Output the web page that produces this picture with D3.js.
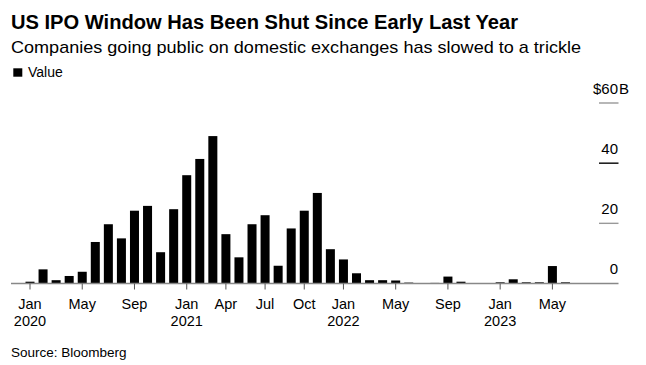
<!DOCTYPE html>
<html><head><meta charset="utf-8">
<script src="https://cdn.jsdelivr.net/npm/d3@7"></script>
<style>
body{margin:0;background:#fff;}
svg{display:block;font-family:"Liberation Sans",Arial,sans-serif;}
</style></head>
<body><svg id="c" width="646" height="365"></svg>
<script>
const months = ["2020-01","2020-02","2020-03","2020-04","2020-05","2020-06","2020-07","2020-08","2020-09","2020-10","2020-11","2020-12",
"2021-01","2021-02","2021-03","2021-04","2021-05","2021-06","2021-07","2021-08","2021-09","2021-10","2021-11","2021-12",
"2022-01","2022-02","2022-03","2022-04","2022-05","2022-06","2022-07","2022-08","2022-09","2022-10","2022-11","2022-12",
"2023-01","2023-02","2023-03","2023-04","2023-05","2023-06"];
const values = [0.6,4.7,1.1,2.5,3.9,13.8,19.7,15.0,24.2,25.8,10.4,24.7,
36.0,41.4,49.0,16.4,8.7,19.7,22.7,5.9,18.3,24.2,30.1,11.4,
8.0,3.4,1.1,1.1,1.0,0.3,0.1,0.2,2.3,0.6,0.1,0.1,
0.4,1.4,0.4,0.4,5.8,0.4];
const tickMonths = ["2020-01","2020-05","2020-09","2021-01","2021-04","2021-07","2021-10","2022-01","2022-05","2022-09","2023-01","2023-05"];
const tickLabels = [["Jan","2020"],["May"],["Sep"],["Jan","2021"],["Apr"],["Jul"],["Oct"],["Jan","2022"],["May"],["Sep"],["Jan","2023"],["May"]];
const yTicks = [0,20,40,60];

const svg = d3.select("#c");
const step = 13.06;
const x = d3.scaleBand().domain(months).range([30 - step/2, 30 - step/2 + step*months.length]).paddingInner(0.31).paddingOuter(0.155);
const y = d3.scaleLinear().domain([0,60]).range([283.5,103]);

// titles
svg.append("text").attr("x",11).attr("y",28.5).attr("font-size",20).attr("font-weight","bold").attr("fill","#000")
  .attr("textLength",507).attr("lengthAdjust","spacingAndGlyphs")
  .text("US IPO Window Has Been Shut Since Early Last Year");
svg.append("text").attr("x",11).attr("y",52.5).attr("font-size",17).attr("fill","#000")
  .attr("textLength",570).attr("lengthAdjust","spacingAndGlyphs")
  .text("Companies going public on domestic exchanges has slowed to a trickle");
svg.append("rect").attr("x",13.3).attr("y",68.3).attr("width",9).attr("height",8.4).attr("fill","#000");
svg.append("text").attr("x",28).attr("y",76.7).attr("font-size",14).attr("fill","#000").text("Value");

// y ticks (right side)
const yg = svg.append("g");
yTicks.forEach(v => {
  if (v > 0) {
    yg.append("line").attr("x1",599).attr("x2",618.5).attr("y1",y(v)).attr("y2",y(v))
      .attr("stroke", v === 40 ? "#000" : "#999").attr("stroke-width",1.4);
  }
  yg.append("text").attr("x",618).attr("y",y(v)-9.5).attr("text-anchor","end").attr("font-size",15).attr("fill","#000")
    .text(v === 60 ? "$" + v : v);
  if (v === 60) yg.append("text").attr("x",619).attr("y",y(v)-9.5).attr("font-size",15).attr("fill","#000").text("B");
});

// bars
svg.append("g").selectAll("rect").data(values).join("rect")
  .attr("x",(d,i)=>x(months[i])).attr("width",x.bandwidth())
  .attr("y",d=>y(d)).attr("height",d=>y(0)-y(d))
  .attr("fill","#000");

// baseline
svg.append("line").attr("x1",11).attr("x2",618.5).attr("y1",y(0)).attr("y2",y(0)).attr("stroke","#888").attr("stroke-width",1.5);

// x axis
const xa = svg.append("g");
tickMonths.forEach((m,i) => {
  const cx = x(m) + x.bandwidth()/2;
  xa.append("line").attr("x1",cx).attr("x2",cx).attr("y1",y(0)).attr("y2",y(0)+6).attr("stroke","#555").attr("stroke-width",1);
  tickLabels[i].forEach((t,j) => {
    xa.append("text").attr("x",cx).attr("y",309 + j*17).attr("text-anchor","middle").attr("font-size",14.5).attr("fill","#000").text(t);
  });
});

svg.append("text").attr("x",11).attr("y",357).attr("font-size",13.5).attr("fill","#000").text("Source: Bloomberg");
</script></body></html>
